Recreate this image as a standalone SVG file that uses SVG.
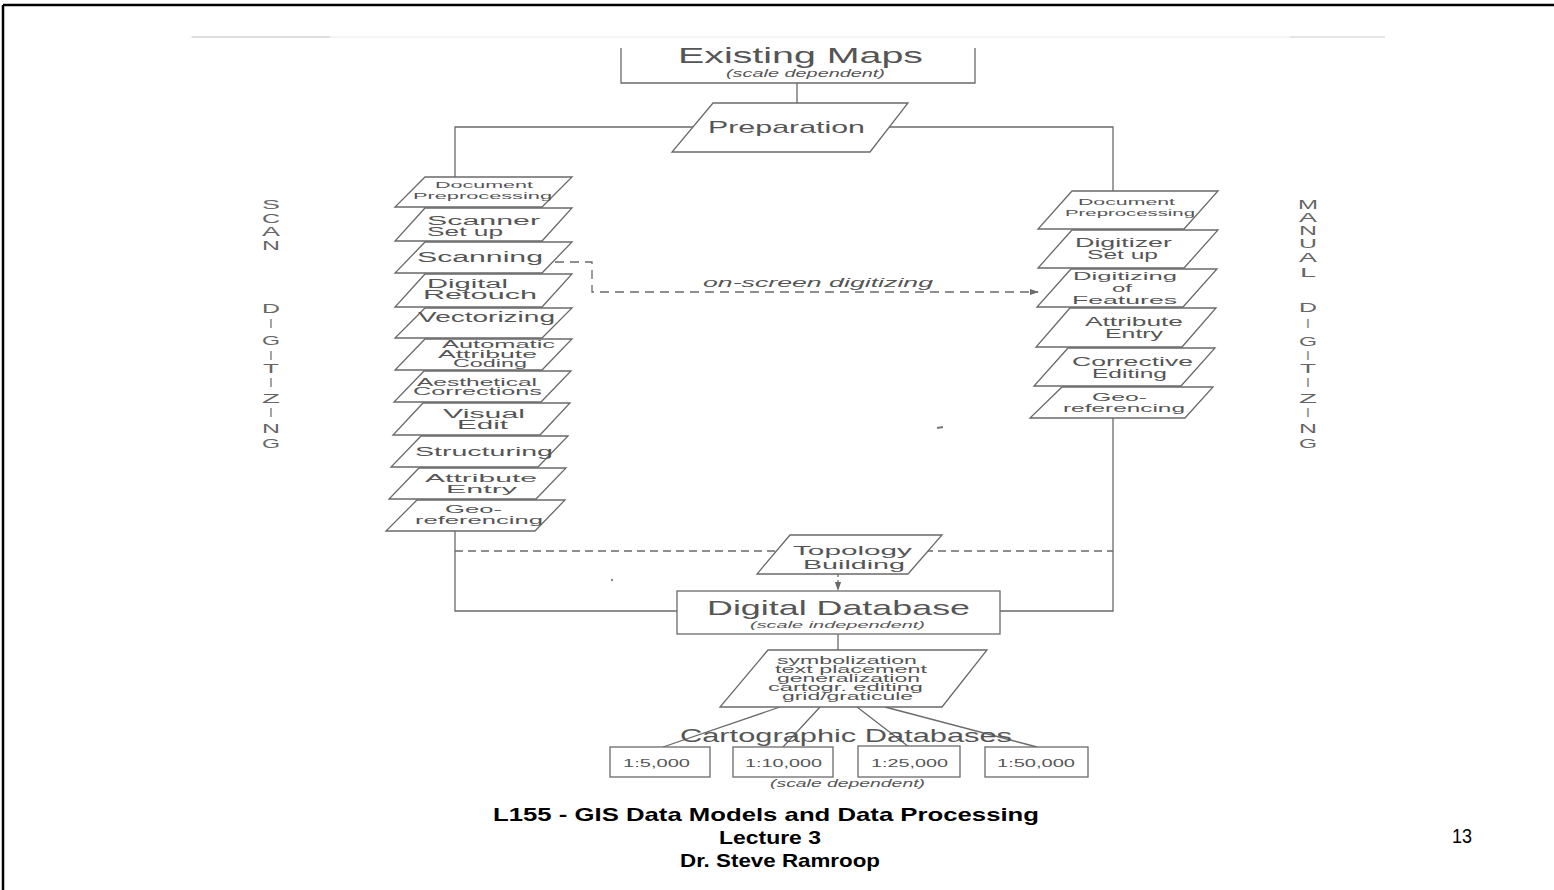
<svg xmlns="http://www.w3.org/2000/svg" width="1554" height="890" viewBox="0 0 1554 890">
<defs>
<style>
.ln{stroke:#6a6a6a;stroke-width:1.3;fill:none}
.bx{stroke:#6a6a6a;stroke-width:1.3;fill:#fff}
.t{font-family:"Liberation Sans",Arial,Helvetica,sans-serif;fill:#555}
.it{font-style:italic}
.v{font-family:"Liberation Sans",Arial,sans-serif;fill:#666;font-size:12px;text-anchor:middle}
.ft{font-family:"Liberation Sans",Arial,sans-serif;fill:#000;font-weight:bold;font-size:19px}
.pg{font-family:"Liberation Sans",Arial,sans-serif;fill:#000;font-size:20px}
</style>
<marker id="ah" viewBox="0 0 10 10" refX="9" refY="5" markerWidth="7" markerHeight="7" orient="auto">
<path d="M0,1.5 L10,5 L0,8.5 z" fill="#6a6a6a"/>
</marker>
</defs>
<rect width="1554" height="890" fill="#fff"/>
<!-- frame -->
<line x1="3" y1="5" x2="1554" y2="5" stroke="#000" stroke-width="2.5"/>
<line x1="3" y1="5" x2="3" y2="890" stroke="#000" stroke-width="2.5"/>
<!-- scan marks -->
<line x1="190" y1="37" x2="1385" y2="37" stroke="#f0f0f0" stroke-width="1.5"/>
<line x1="192" y1="37" x2="330" y2="37" stroke="#d8d8d8" stroke-width="1.5"/>
<line x1="1290" y1="37" x2="1385" y2="37" stroke="#e0e0e0" stroke-width="1.5"/>
<line x1="937" y1="428" x2="943" y2="427" stroke="#777" stroke-width="2"/>
<circle cx="612" cy="580" r="1.2" fill="#888"/>

<g id="connectors">
<path class="ln" d="M797,83 V103"/>
<path class="ln" d="M455,177 V127 H1113 V191"/>
<path class="ln" d="M455,531 V611 H677"/>
<path class="ln" d="M1113,418 V611 H1000"/>
<path class="ln" d="M455,551 H775 M925,551 H1113" stroke-dasharray="8,5"/>
<path class="ln" d="M555,262 H592 V292 H1038" stroke-dasharray="9,6" marker-end="url(#ah)"/>
<path class="ln" d="M838,574 V590" stroke-dasharray="3,3" marker-end="url(#ah)"/>
<path class="ln" d="M838,634 V650"/>
<path class="ln" d="M780,707 L663,747 M820,707 L783,747 M857,707 L909,747 M885,707 L1037,747"/>
</g>

<g id="existing-maps">
<path class="ln" d="M621,48 V83 H975 V48"/>
<text class="t" x="678" y="63" font-size="22" textLength="245" lengthAdjust="spacingAndGlyphs">Existing Maps</text>
<text class="t it" x="726" y="77" font-size="10" textLength="159" lengthAdjust="spacingAndGlyphs">(scale dependent)</text>
</g>

<g id="preparation">
<polygon class="bx" points="713,103 908,103 870,152 672,152"/>
<text class="t" x="708" y="133" font-size="17" textLength="157" lengthAdjust="spacingAndGlyphs">Preparation</text>
</g>

<!-- left column -->
<g id="l-docpre">
<polygon class="bx" points="425,177 572,177 542,207 395,207"/>
<text class="t" x="435" y="188" font-size="9.5" textLength="98" lengthAdjust="spacingAndGlyphs">Document</text>
<text class="t" x="413" y="199" font-size="9.5" textLength="139" lengthAdjust="spacingAndGlyphs">Preprocessing</text>
</g>
<g id="l-scanner">
<polygon class="bx" points="425,208 572,208 542,241 395,241"/>
<text class="t" x="427" y="225" font-size="12.5" textLength="113" lengthAdjust="spacingAndGlyphs">Scanner</text>
<text class="t" x="427" y="236" font-size="12.5" textLength="76" lengthAdjust="spacingAndGlyphs">Set up</text>
</g>
<g id="l-scanning">
<polygon class="bx" points="425,242 572,242 542,273 395,273"/>
<text class="t" x="417" y="262" font-size="14" textLength="126" lengthAdjust="spacingAndGlyphs">Scanning</text>
</g>
<g id="l-retouch">
<polygon class="bx" points="425,274 572,274 542,307 395,307"/>
<text class="t" x="427" y="288" font-size="12.5" textLength="81" lengthAdjust="spacingAndGlyphs">Digital</text>
<text class="t" x="423" y="299" font-size="12.5" textLength="114" lengthAdjust="spacingAndGlyphs">Retouch</text>
</g>
<g id="l-vector">
<polygon class="bx" points="425,308 572,308 542,338 395,338"/>
<text class="t" x="418" y="322" font-size="14" textLength="137" lengthAdjust="spacingAndGlyphs">Vectorizing</text>
</g>
<g id="l-autoattr">
<polygon class="bx" points="425,339 572,339 542,370 395,370"/>
<text class="t" x="442" y="348" font-size="10" textLength="113" lengthAdjust="spacingAndGlyphs">Automatic</text>
<text class="t" x="438" y="358" font-size="10" textLength="99" lengthAdjust="spacingAndGlyphs">Attribute</text>
<text class="t" x="453" y="367" font-size="10" textLength="74" lengthAdjust="spacingAndGlyphs">Coding</text>
</g>
<g id="l-aesth">
<polygon class="bx" points="424,371 571,371 541,402 394,402"/>
<text class="t" x="417" y="386" font-size="10" textLength="120" lengthAdjust="spacingAndGlyphs">Aesthetical</text>
<text class="t" x="413" y="395" font-size="10" textLength="129" lengthAdjust="spacingAndGlyphs">Corrections</text>
</g>
<g id="l-visual">
<polygon class="bx" points="423,403 570,403 540,435 393,435"/>
<text class="t" x="443" y="418" font-size="12.5" textLength="82" lengthAdjust="spacingAndGlyphs">Visual</text>
<text class="t" x="457" y="429" font-size="12.5" textLength="51" lengthAdjust="spacingAndGlyphs">Edit</text>
</g>
<g id="l-struct">
<polygon class="bx" points="421,436 568,436 538,467 391,467"/>
<text class="t" x="415" y="456" font-size="13.5" textLength="138" lengthAdjust="spacingAndGlyphs">Structuring</text>
</g>
<g id="l-attr">
<polygon class="bx" points="419,468 566,468 536,499 389,499"/>
<text class="t" x="425" y="482" font-size="11.5" textLength="112" lengthAdjust="spacingAndGlyphs">Attribute</text>
<text class="t" x="446" y="493" font-size="11.5" textLength="71" lengthAdjust="spacingAndGlyphs">Entry</text>
</g>
<g id="l-geo">
<polygon class="bx" points="417,500 565,500 535,531 386,531"/>
<text class="t" x="445" y="513" font-size="10" textLength="57" lengthAdjust="spacingAndGlyphs">Geo-</text>
<text class="t" x="415" y="524" font-size="10" textLength="128" lengthAdjust="spacingAndGlyphs">referencing</text>
</g>

<!-- right column -->
<g id="r-docpre">
<polygon class="bx" points="1072,191 1218,191 1184,229 1038,229"/>
<text class="t" x="1078" y="205" font-size="9.5" textLength="97" lengthAdjust="spacingAndGlyphs">Document</text>
<text class="t" x="1065" y="216" font-size="9.5" textLength="130" lengthAdjust="spacingAndGlyphs">Preprocessing</text>
</g>
<g id="r-digitizer">
<polygon class="bx" points="1072,230 1218,230 1184,268 1038,268"/>
<text class="t" x="1075" y="247" font-size="12" textLength="97" lengthAdjust="spacingAndGlyphs">Digitizer</text>
<text class="t" x="1087" y="259" font-size="12" textLength="71" lengthAdjust="spacingAndGlyphs">Set up</text>
</g>
<g id="r-features">
<polygon class="bx" points="1071,269 1217,269 1183,307 1037,307"/>
<text class="t" x="1073" y="280" font-size="11" textLength="104" lengthAdjust="spacingAndGlyphs">Digitizing</text>
<text class="t" x="1112" y="292" font-size="11" textLength="20" lengthAdjust="spacingAndGlyphs">of</text>
<text class="t" x="1072" y="304" font-size="11" textLength="105" lengthAdjust="spacingAndGlyphs">Features</text>
</g>
<g id="r-attr">
<polygon class="bx" points="1070,308 1216,308 1182,347 1036,347"/>
<text class="t" x="1085" y="326" font-size="12" textLength="98" lengthAdjust="spacingAndGlyphs">Attribute</text>
<text class="t" x="1105" y="338" font-size="12" textLength="58" lengthAdjust="spacingAndGlyphs">Entry</text>
</g>
<g id="r-corr">
<polygon class="bx" points="1068,348 1215,348 1181,386 1034,386"/>
<text class="t" x="1072" y="366" font-size="12" textLength="121" lengthAdjust="spacingAndGlyphs">Corrective</text>
<text class="t" x="1092" y="378" font-size="12" textLength="75" lengthAdjust="spacingAndGlyphs">Editing</text>
</g>
<g id="r-geo">
<polygon class="bx" points="1062,387 1213,387 1185,418 1030,418"/>
<text class="t" x="1092" y="401" font-size="10" textLength="55" lengthAdjust="spacingAndGlyphs">Geo-</text>
<text class="t" x="1063" y="412" font-size="10" textLength="122" lengthAdjust="spacingAndGlyphs">referencing</text>
</g>

<g id="onscreen-label">
<text class="t it" x="703" y="287" font-size="13.5" textLength="230" lengthAdjust="spacingAndGlyphs">on-screen digitizing</text>
</g>

<g id="topology">
<polygon class="bx" points="790,535 942,535 908,574 757,574"/>
<text class="t" x="793" y="555" font-size="13.5" textLength="119" lengthAdjust="spacingAndGlyphs">Topology</text>
<text class="t" x="803" y="569" font-size="13.5" textLength="102" lengthAdjust="spacingAndGlyphs">Building</text>
</g>

<g id="digital-db">
<rect class="bx" x="677" y="591" width="323" height="43"/>
<text class="t" x="707" y="615" font-size="21" textLength="263" lengthAdjust="spacingAndGlyphs">Digital Database</text>
<text class="t it" x="750" y="628" font-size="9.5" textLength="175" lengthAdjust="spacingAndGlyphs">(scale independent)</text>
</g>

<g id="carto-ops">
<polygon class="bx" points="768,650 987,650 942,707 720,707"/>
<text class="t" x="777" y="664" font-size="10" textLength="140" lengthAdjust="spacingAndGlyphs">symbolization</text>
<text class="t" x="775" y="673" font-size="10" textLength="152" lengthAdjust="spacingAndGlyphs">text placement</text>
<text class="t" x="777" y="682" font-size="10" textLength="143" lengthAdjust="spacingAndGlyphs">generalization</text>
<text class="t" x="768" y="691" font-size="10" textLength="155" lengthAdjust="spacingAndGlyphs">cartogr. editing</text>
<text class="t" x="782" y="700" font-size="10" textLength="131" lengthAdjust="spacingAndGlyphs">grid/graticule</text>
</g>

<g id="carto-db-label">
<text class="t" x="680" y="742" font-size="19" textLength="332" lengthAdjust="spacingAndGlyphs">Cartographic Databases</text>
<text class="t it" x="770" y="787" font-size="10" textLength="155" lengthAdjust="spacingAndGlyphs">(scale dependent)</text>
</g>
<g id="db-5000">
<rect class="bx" x="610" y="747" width="100" height="30"/>
<text class="t" x="623" y="767" font-size="10" textLength="67" lengthAdjust="spacingAndGlyphs">1:5,000</text>
</g>
<g id="db-10000">
<rect class="bx" x="733" y="747" width="100" height="30"/>
<text class="t" x="745" y="767" font-size="10" textLength="77" lengthAdjust="spacingAndGlyphs">1:10,000</text>
</g>
<g id="db-25000">
<rect class="bx" x="858" y="746" width="102" height="31"/>
<text class="t" x="871" y="767" font-size="10" textLength="77" lengthAdjust="spacingAndGlyphs">1:25,000</text>
</g>
<g id="db-50000">
<rect class="bx" x="985" y="747" width="103" height="30"/>
<text class="t" x="997" y="767" font-size="10" textLength="78" lengthAdjust="spacingAndGlyphs">1:50,000</text>
</g>

<g id="scan-digitizing">
<text class="v" x="271" y="209" textLength="18" lengthAdjust="spacingAndGlyphs">S</text>
<text class="v" x="271" y="223" textLength="18" lengthAdjust="spacingAndGlyphs">C</text>
<text class="v" x="271" y="236" textLength="18" lengthAdjust="spacingAndGlyphs">A</text>
<text class="v" x="271" y="250" textLength="18" lengthAdjust="spacingAndGlyphs">N</text>
<text class="v" x="271" y="313" textLength="18" lengthAdjust="spacingAndGlyphs">D</text>
<text class="v" x="271" y="328" font-size="9">I</text>
<text class="v" x="271" y="345" textLength="18" lengthAdjust="spacingAndGlyphs">G</text>
<text class="v" x="271" y="360" font-size="9">I</text>
<text class="v" x="271" y="373" textLength="16" lengthAdjust="spacingAndGlyphs">T</text>
<text class="v" x="271" y="387" font-size="9">I</text>
<text class="v" x="271" y="403" textLength="18" lengthAdjust="spacingAndGlyphs">Z</text>
<text class="v" x="271" y="417" font-size="9">I</text>
<text class="v" x="271" y="433" textLength="18" lengthAdjust="spacingAndGlyphs">N</text>
<text class="v" x="271" y="448" textLength="18" lengthAdjust="spacingAndGlyphs">G</text>
</g>

<g id="manual-digitizing">
<text class="v" x="1308" y="209" textLength="20" lengthAdjust="spacingAndGlyphs">M</text>
<text class="v" x="1308" y="222" textLength="18" lengthAdjust="spacingAndGlyphs">A</text>
<text class="v" x="1308" y="235" textLength="18" lengthAdjust="spacingAndGlyphs">N</text>
<text class="v" x="1308" y="248" textLength="18" lengthAdjust="spacingAndGlyphs">U</text>
<text class="v" x="1308" y="262" textLength="18" lengthAdjust="spacingAndGlyphs">A</text>
<text class="v" x="1308" y="277" textLength="16" lengthAdjust="spacingAndGlyphs">L</text>
<text class="v" x="1308" y="312" textLength="18" lengthAdjust="spacingAndGlyphs">D</text>
<text class="v" x="1308" y="328" font-size="9">I</text>
<text class="v" x="1308" y="346" textLength="18" lengthAdjust="spacingAndGlyphs">G</text>
<text class="v" x="1308" y="360" font-size="9">I</text>
<text class="v" x="1308" y="373" textLength="16" lengthAdjust="spacingAndGlyphs">T</text>
<text class="v" x="1308" y="387" font-size="9">I</text>
<text class="v" x="1308" y="403" textLength="18" lengthAdjust="spacingAndGlyphs">Z</text>
<text class="v" x="1308" y="417" font-size="9">I</text>
<text class="v" x="1308" y="433" textLength="18" lengthAdjust="spacingAndGlyphs">N</text>
<text class="v" x="1308" y="448" textLength="18" lengthAdjust="spacingAndGlyphs">G</text>
</g>

<g id="footer">
<text class="ft" x="493" y="821" textLength="546" lengthAdjust="spacingAndGlyphs">L155 - GIS Data Models and Data Processing</text>
<text class="ft" x="719" y="844" textLength="102" lengthAdjust="spacingAndGlyphs">Lecture 3</text>
<text class="ft" x="680" y="867" textLength="200" lengthAdjust="spacingAndGlyphs">Dr. Steve Ramroop</text>
<text class="pg" x="1452" y="843" textLength="20" lengthAdjust="spacingAndGlyphs">13</text>
</g>
</svg>
